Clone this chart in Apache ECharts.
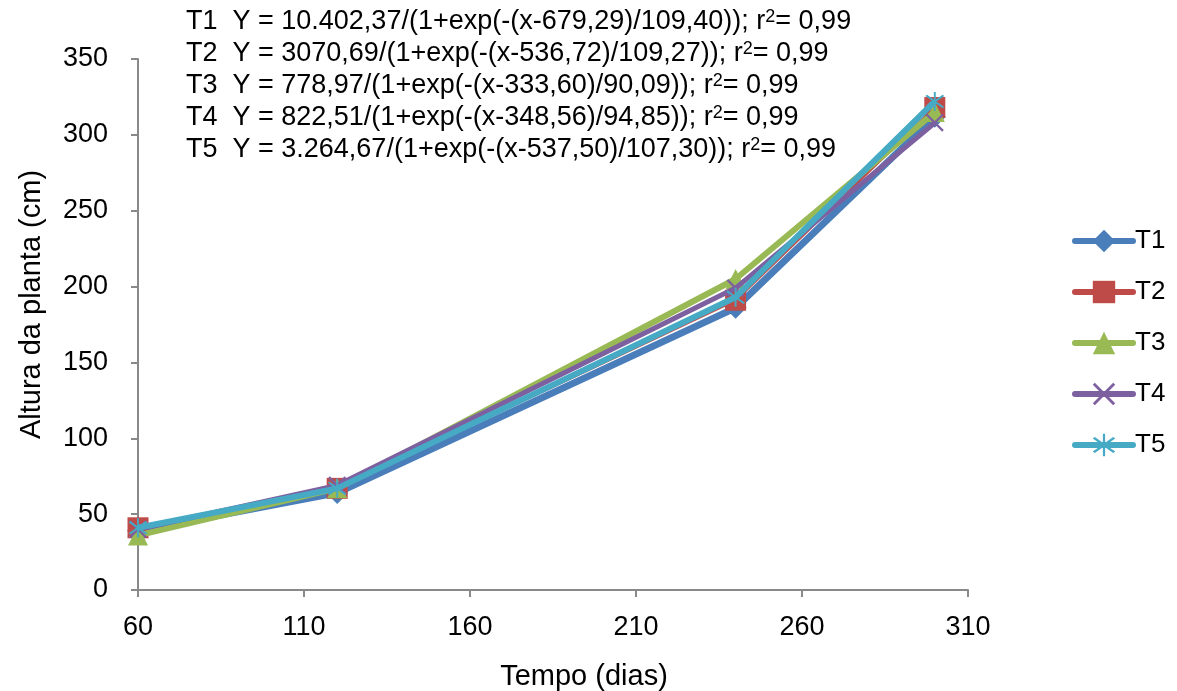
<!DOCTYPE html>
<html><head><meta charset="utf-8">
<script src="https://cdn.jsdelivr.net/npm/echarts@6/dist/echarts.min.js"></script>
<style>html,body{margin:0;padding:0;background:#fff}#c{width:1177px;height:691px}</style>
</head><body><div id="c"></div>
<script>
const days = [60, 120, 240, 300];
const T1 = [39, 64, 186, 312];
const T2 = [41, 67, 191, 318];
const T3 = [36, 67, 205, 315];
const T4 = [40, 69, 199, 308];
const T5 = [41, 67, 193, 322];
const seriesNames = ['T1','T2','T3','T4','T5'];
const equations = [
  'T1  Y = 10.402,37/(1+exp(-(x-679,29)/109,40)); ',
  'T2  Y = 3070,69/(1+exp(-(x-536,72)/109,27)); ',
  'T3  Y = 778,97/(1+exp(-(x-333,60)/90,09)); ',
  'T4  Y = 822,51/(1+exp(-(x-348,56)/94,85)); ',
  'T5  Y = 3.264,67/(1+exp(-(x-537,50)/107,30)); '
];
const r2 = ['0,99','0,99','0,99','0,99','0,99'];
const colors = ['#4a7ebb','#be4b48','#98b954','#7d60a0','#46aac5'];
const widths = [7, 3, 6, 5, 6];
const xPath = 'path://M0,9L9,0L100,91L91,100ZM91,0L100,9L9,100L0,91Z';
const starPath = 'path://M0,9L9,0L100,91L91,100ZM91,0L100,9L9,100L0,91ZM45,-20L55,-20L55,120L45,120Z';
const symbols = ['diamond','rect','triangle', xPath, starPath];
const sizes = [22, 21, 20, 18, 19];
const data = [T1,T2,T3,T4,T5];
const chart = echarts.init(document.getElementById('c'));
const font = '"Liberation Sans", Arial, sans-serif';
chart.setOption({
  animation:false,
  grid:{left:138, right:209, top:59, bottom:101, containLabel:false, outerBoundsMode:'none'},
  xAxis:{type:'value', min:60, max:310, interval:50,
    name:'Tempo (dias)', nameLocation:'middle', nameGap:72,
    nameTextStyle:{fontSize:29, color:'#000', fontFamily:font, padding:[0,0,0,62]},
    axisLine:{lineStyle:{color:'#898989', width:2}},
    axisTick:{show:true, length:7, lineStyle:{color:'#898989', width:2}},
    axisLabel:{fontSize:27, color:'#000', fontFamily:font, margin:24},
    splitLine:{show:false}},
  yAxis:{type:'value', min:0, max:350, interval:50,
    name:'Altura da planta (cm)', nameLocation:'middle', nameGap:92,
    nameTextStyle:{fontSize:29, color:'#000', fontFamily:font, padding:[0,0,0,40]},
    axisLine:{show:true, lineStyle:{color:'#898989', width:2}},
    axisTick:{show:true, length:7, lineStyle:{color:'#898989', width:2}},
    axisLabel:{fontSize:27, color:'#000', fontFamily:font, margin:30},
    splitLine:{show:false}},
  legend:{orient:'vertical', left:1067, top:223, itemWidth:58, itemHeight:28, itemGap:25,
    textStyle:{fontSize:26, color:'#000', fontFamily:font, padding:[0,0,0,-3]},
    data:seriesNames.map((n,i)=>({name:n, lineStyle:{width:6, cap:'round', color:colors[i]}}))},
  series: seriesNames.map((n,i)=>({
    name:n, type:'line', data: days.map((d,j)=>[d, data[i][j]]),
    symbol:symbols[i], symbolSize:sizes[i],
    lineStyle:{color:colors[i], width:widths[i]},
    itemStyle:{color:colors[i]}, z:2+i
  })),
  graphic: equations.map((e,i)=>({
    type:'text', x:186, y:22 + i*32,
    style:{ text:'{a|'+e+'r}{s|2}{a|= '+r2[i]+'}', x:0, y:0, fill:'#000',
      verticalAlign:'middle',
      rich:{
        a:{fontSize:27, fontFamily:font, fill:'#000', lineHeight:27, verticalAlign:'middle'},
        s:{fontSize:18, fontFamily:font, fill:'#000', lineHeight:16, verticalAlign:'top'}
      }}
  }))
});
</script></body></html>
